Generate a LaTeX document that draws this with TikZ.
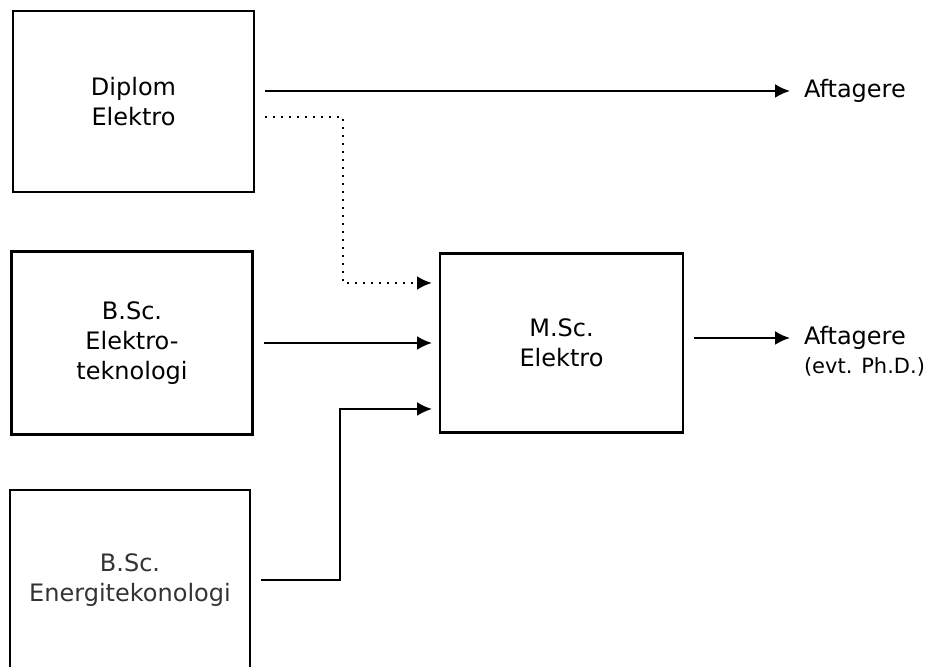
\documentclass[tikz,border=0pt]{standalone}
\usepackage{fontspec}
\setmainfont{DejaVu Sans}
\usetikzlibrary{arrows.meta}
\tikzset{
  box/.style={draw, line width=1.3pt, minimum width=120.5pt, minimum height=90.5pt, outer sep=4pt, align=center, font=\fontsize{12pt}{15pt}\selectfont},
  thinbox/.style={box, line width=0.7pt, text=black!80},
  lbl/.style={inner sep=3pt, outer sep=4pt, anchor=west, font=\fontsize{12pt}{15pt}\selectfont},
  smalllbl/.style={lbl, font=\fontsize{10.5pt}{12pt}\selectfont},
  conn/.style={line width=1.1pt, shorten <=1.5pt, -{Latex[length=7.5pt,width=7pt]}},
  dots/.style={conn, line width=1.4pt, dash pattern=on 1pt off 3pt},
}

\begin{document}
\begin{tikzpicture}[x=0.5pt,y=0.5pt]
\useasboundingbox (0,0) rectangle (928,667);
\clip (0,0) rectangle (928,667);
% boxes
\node[box] (dipl) at (133.5,565.5) {Diplom\\Elektro};
\node[box, minimum height=91.5pt] (bsc) at (132,324) {B.Sc.\\Elektro-\\teknologi};
\node[thinbox, minimum width=120pt, minimum height=90pt] (energi) at (130,87) {B.Sc.\\Energitekonologi};
\node[box, minimum width=121.5pt, minimum height=89.5pt] (msc) at (561.5,324) {M.Sc.\\Elektro};
% labels
\node[lbl] (aft1) at (790,576) {Aftagere};
\node[lbl] (aft2) at (790,329) {Aftagere};
\node[smalllbl] (evt) at (790,300) {(evt. Ph.D.)};
% connectors
\draw[conn] (dipl.east |- aft1.west) -- (aft1.west);
\draw[dots] ([yshift=-7.75pt]dipl.east) -| ([xshift=-44.5pt,yshift=30pt]msc.west) -- ([yshift=30pt]msc.west);
\draw[conn] (bsc.east) -- (msc.west);
\draw[conn] (energi.east) -| ([xshift=-46pt,yshift=-33pt]msc.west) -- ([yshift=-33pt]msc.west);
\draw[conn] (msc.east |- aft2.west) -- (aft2.west);
\end{tikzpicture}
\end{document}
